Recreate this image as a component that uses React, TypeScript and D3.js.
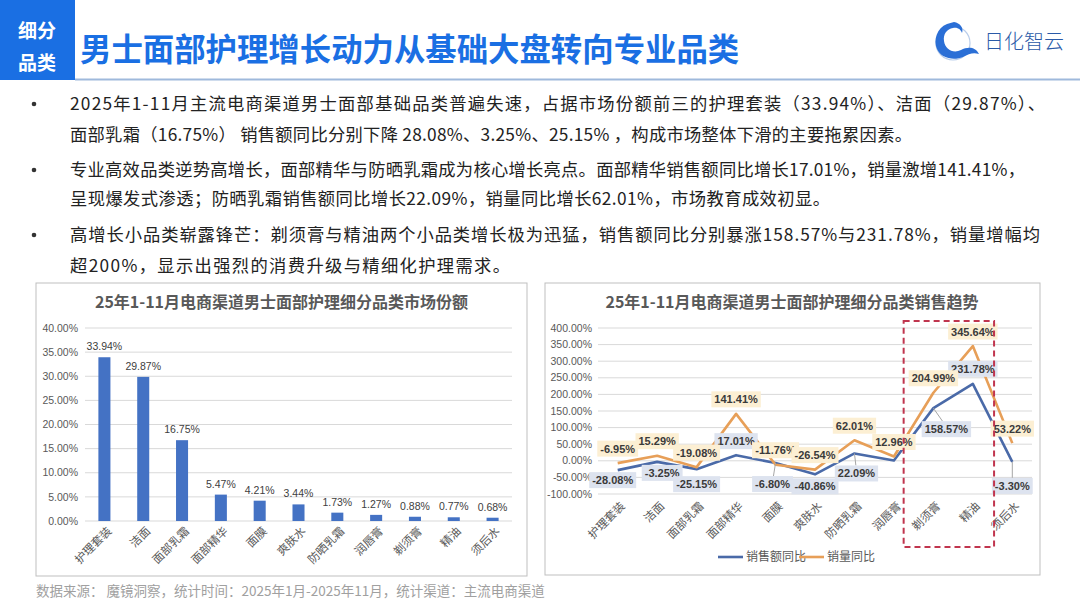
import React from 'react';
import * as d3 from 'd3';

const categories = ['护理套装', '洁面', '面部乳霜', '面部精华', '面膜', '爽肤水', '防晒乳霜', '润唇膏', '剃须膏', '精油', '须后水'];
const marketShare = [33.94, 29.87, 16.75, 5.47, 4.21, 3.44, 1.73, 1.27, 0.88, 0.77, 0.68];
const salesYoY = [-28.08, -3.25, -25.15, 17.01, -6.8, -40.86, 22.09, 0.8, 158.57, 231.78, -3.3];
const volumeYoY = [-6.95, 15.29, -19.08, 141.41, -11.76, -26.54, 62.01, 12.96, 204.99, 345.64, 53.22];
const salesLabelShown = [true, true, true, true, true, true, true, false, true, true, true];
const shareTicks = [0, 5, 10, 15, 20, 25, 30, 35, 40];
const growthTicks = [-100, -50, 0, 50, 100, 150, 200, 250, 300, 350, 400];
const seriesNames = ['销售额同比', '销量同比'];

// label placement offsets (layout only)
const salesLabelOffset = [[-5, 10], [5, 11], [0, 15], [0, -14], [-3, 21], [0, 12], [2, 20], [0, 0], [13, 21], [0, -15], [0, 24]];
const volumeLabelDy = -14.5;

const bullets = [
  ['2025年1-11月主流电商渠道男士面部基础品类普遍失速，占据市场份额前三的护理套装（33.94%）、洁面（29.87%）、', '面部乳霜（16.75%） 销售额同比分别下降 28.08%、3.25%、25.15% ，构成市场整体下滑的主要拖累因素。'],
  ['专业高效品类逆势高增长，面部精华与防晒乳霜成为核心增长亮点。面部精华销售额同比增长17.01%，销量激增141.41%，', '呈现爆发式渗透；防晒乳霜销售额同比增长22.09%，销量同比增长62.01%，市场教育成效初显。'],
  ['高增长小品类崭露锋芒：剃须膏与精油两个小品类增长极为迅猛，销售额同比分别暴涨158.57%与231.78%，销量增幅均', '超200%，显示出强烈的消费升级与精细化护理需求。'],
];
// rendered line widths (layout only)
const bulletLineWidths = [975, 842, 955, 760, 970, 440];

const CJK = '"Noto Sans CJK SC", "Noto Sans", sans-serif';
const NUM = '"Liberation Sans", Arial, "Noto Sans CJK SC", sans-serif';
const BLUE = '#4a6aa8';
const ORANGE = '#e79f58';
const GRID = '#d9d9d9';
const AXISTXT = '#595959';

const pct = (v: number) => v.toFixed(2) + '%';
const textW = (s: string, size: number) => {
  let w = 0;
  for (const c of s) {
    if (c === '.') w += 0.278;
    else if (c === '%') w += 0.889;
    else if (c === '-') w += 0.333;
    else w += 0.556;
  }
  return w * size;
};

function LeftChart() {
  const x = d3.scaleBand<string>().domain(categories).range([85, 512]).paddingInner(0.69).paddingOuter(0.345);
  const y = d3.scaleLinear().domain([0, 40]).range([521, 328]);
  return (
    <g>
      <rect x={36} y={283} width={491} height={293} fill="#fff" stroke="#bfbfbf" strokeWidth={1} />
      <text x={281.5} y={308} textAnchor="middle" fontFamily={CJK} fontWeight={700} fontSize={16} fill="#595959">
        25年1-11月电商渠道男士面部护理细分品类市场份额
      </text>
      {shareTicks.map((t) => (
        <g key={t}>
          <line x1={85} x2={512} y1={y(t)} y2={y(t)} stroke={GRID} strokeWidth={1} />
          <text x={78} y={y(t)} dy="0.35em" textAnchor="end" fontFamily={NUM} fontSize={10.5} fill={AXISTXT}>
            {t.toFixed(2)}%
          </text>
        </g>
      ))}
      {categories.map((c, i) => {
        const bx = x(c)!;
        const bw = x.bandwidth();
        const cx = bx + bw / 2;
        return (
          <g key={c}>
            <rect x={bx} y={y(marketShare[i])} width={bw} height={y(0) - y(marketShare[i])} fill="#4472c4" />
            <text x={cx} y={y(marketShare[i]) - 7} textAnchor="middle" fontFamily={NUM} fontSize={10.5} fill="#404040">
              {pct(marketShare[i])}
            </text>
            <text
              transform={`translate(${cx + 5},${y(0) + 8}) rotate(-45)`}
              textAnchor="end"
              dy="0.35em"
              fontFamily={CJK}
              fontSize={11.5}
              fill={AXISTXT}
            >
              {c}
            </text>
          </g>
        );
      })}
    </g>
  );
}

function LabelBox({ cx, cy, text, bg }: { cx: number; cy: number; text: string; bg: string }) {
  const w = textW(text, 11) + 6;
  return (
    <g>
      <rect x={cx - w / 2} y={cy - 8} width={w} height={16} fill={bg} />
      <text x={cx} y={cy} dy="0.36em" textAnchor="middle" fontFamily={NUM} fontWeight={700} fontSize={11} fill="#3a3a3a">
        {text}
      </text>
    </g>
  );
}

function RightChart() {
  const x = d3.scalePoint<string>().domain(categories).range([617.7, 1012.3]);
  const band = x.step();
  const y = d3.scaleLinear().domain([-100, 400]).range([494, 328]);
  const line = d3
    .line<number>()
    .x((_, i) => x(categories[i])!)
    .y((v) => y(v));
  const boxLeft = x('剃须膏')! - band / 2 - 10;
  const boxRight = x('精油')! + band / 2 + 1.5;
  return (
    <g>
      <rect x={545} y={283} width={495} height={292} fill="#fff" stroke="#bfbfbf" strokeWidth={1} />
      <text x={792} y={308} textAnchor="middle" fontFamily={CJK} fontWeight={700} fontSize={16} fill="#595959">
        25年1-11月电商渠道男士面部护理细分品类销售趋势
      </text>
      {growthTicks.map((t) => (
        <g key={t}>
          <line x1={598} x2={1032} y1={y(t)} y2={y(t)} stroke={GRID} strokeWidth={1} />
          <text x={592} y={y(t)} dy="0.35em" textAnchor="end" fontFamily={NUM} fontSize={10.5} fill={AXISTXT}>
            {t.toFixed(2)}%
          </text>
        </g>
      ))}
      {categories.map((c) => (
        <text
          key={c}
          transform={`translate(${x(c)! + 5},${y(-100) + 10}) rotate(-45)`}
          textAnchor="end"
          dy="0.35em"
          fontFamily={CJK}
          fontSize={11.5}
          fill={AXISTXT}
        >
          {c}
        </text>
      ))}
      <path d={line(salesYoY)!} fill="none" stroke={BLUE} strokeWidth={2.6} strokeLinejoin="round" />
      <path d={line(volumeYoY)!} fill="none" stroke={ORANGE} strokeWidth={2.6} strokeLinejoin="round" />
      {categories.map((c, i) => {
        if (!salesLabelShown[i]) return null;
        const px = x(c)!;
        const py = y(salesYoY[i]);
        const [dx, dy] = salesLabelOffset[i];
        const lx = px + dx;
        const ly = py + dy;
        return (
          <g key={'s' + c}>
            {Math.abs(dy) >= 18 && (
              <line x1={px} y1={py} x2={lx - dx * 0.3} y2={ly - 8} stroke="#a6a6a6" strokeWidth={1} />
            )}
            <LabelBox cx={lx} cy={ly} text={pct(salesYoY[i])} bg="#dde3ef" />
          </g>
        );
      })}
      {categories.map((c, i) => (
        <LabelBox key={'v' + c} cx={x(c)!} cy={y(volumeYoY[i]) + volumeLabelDy} text={pct(volumeYoY[i])} bg="#fcefd3" />
      ))}
      <rect
        x={boxLeft}
        y={y(400) - 7}
        width={boxRight - boxLeft}
        height={547 - (y(400) - 7)}
        fill="none"
        stroke="#c0354e"
        strokeWidth={2}
        strokeDasharray="6,4"
      />
      <g>
        <line x1={718} x2={743} y1={557} y2={557} stroke={BLUE} strokeWidth={2.6} />
        <text x={746} y={557} dy="0.35em" fontFamily={CJK} fontSize={12} fill={AXISTXT}>
          {seriesNames[0]}
        </text>
        <line x1={799} x2={824} y1={557} y2={557} stroke={ORANGE} strokeWidth={2.6} />
        <text x={827} y={557} dy="0.35em" fontFamily={CJK} fontSize={12} fill={AXISTXT}>
          {seriesNames[1]}
        </text>
      </g>
    </g>
  );
}

function Header() {
  return (
    <g>
      <rect x={0} y={0} width={75} height={80} fill="#1a6fe3" />
      <text x={37} y={31} textAnchor="middle" dy="0.35em" fontFamily={CJK} fontWeight={700} fontSize={19} fill="#fff">
        细分
      </text>
      <text x={37} y={63} textAnchor="middle" dy="0.35em" fontFamily={CJK} fontWeight={700} fontSize={19} fill="#fff">
        品类
      </text>
      <text x={80} y={50} dy="0.35em" fontFamily={CJK} fontWeight={700} fontSize={31.4} fill="#1a6fe3">
        男士面部护理增长动力从基础大盘转向专业品类
      </text>
      <line x1={75} x2={1080} y1={79.5} y2={79.5} stroke="#9fb9dc" strokeWidth={2} />
      {/* logo */}
      <g>
        <circle cx={953} cy={43} r={17} fill="none" stroke="#b9cdea" strokeWidth={1.2} />
        <path
          d="M947,24 C937,28 933,40 937,49 C941,58 953,61 963,57 C969,54 973,52 979,54 C975,46 967,47 961,50 C953,54 945,49 944,41 C943,34 947,29 953,28 C958,27 961,30 962,33 C964,28 960,23 954,22 Z"
          fill="#2b6fd6"
        />
        <text x={984} y={42} dy="0.35em" fontFamily={CJK} fontWeight={300} fontSize={20} fill="#2a5aa8">
          日化智云
        </text>
      </g>
    </g>
  );
}

function Bullets() {
  const rows = [104, 135, 170, 199, 235, 266];
  return (
    <g>
      {bullets.map((pair, bi) => (
        <g key={bi}>
          <circle cx={34} cy={rows[bi * 2]} r={2.3} fill="#333" />
          {pair.map((line, li) => (
            <text
              key={li}
              x={70}
              y={rows[bi * 2 + li]}
              dy="0.35em"
              fontFamily={CJK}
              fontSize={17.3}
              fill="#222"
              textLength={bulletLineWidths[bi * 2 + li]}
              lengthAdjust="spacing"
            >
              {line}
            </text>
          ))}
        </g>
      ))}
    </g>
  );
}

export default function App() {
  return (
    <svg
      width={1080}
      height={608}
      viewBox="0 0 1080 608"
      style={{ position: 'absolute', left: 0, top: 0, display: 'block', background: '#fff' }}
    >
      <rect width={1080} height={608} fill="#fff" />
      <Header />
      <Bullets />
      <LeftChart />
      <RightChart />
      <text x={36} y={591} dy="0.35em" fontFamily={CJK} fontSize={13.5} fill="#a0a0a0">
        数据来源： 魔镜洞察，统计时间：2025年1月-2025年11月，统计渠道：主流电商渠道
      </text>
    </svg>
  );
}
